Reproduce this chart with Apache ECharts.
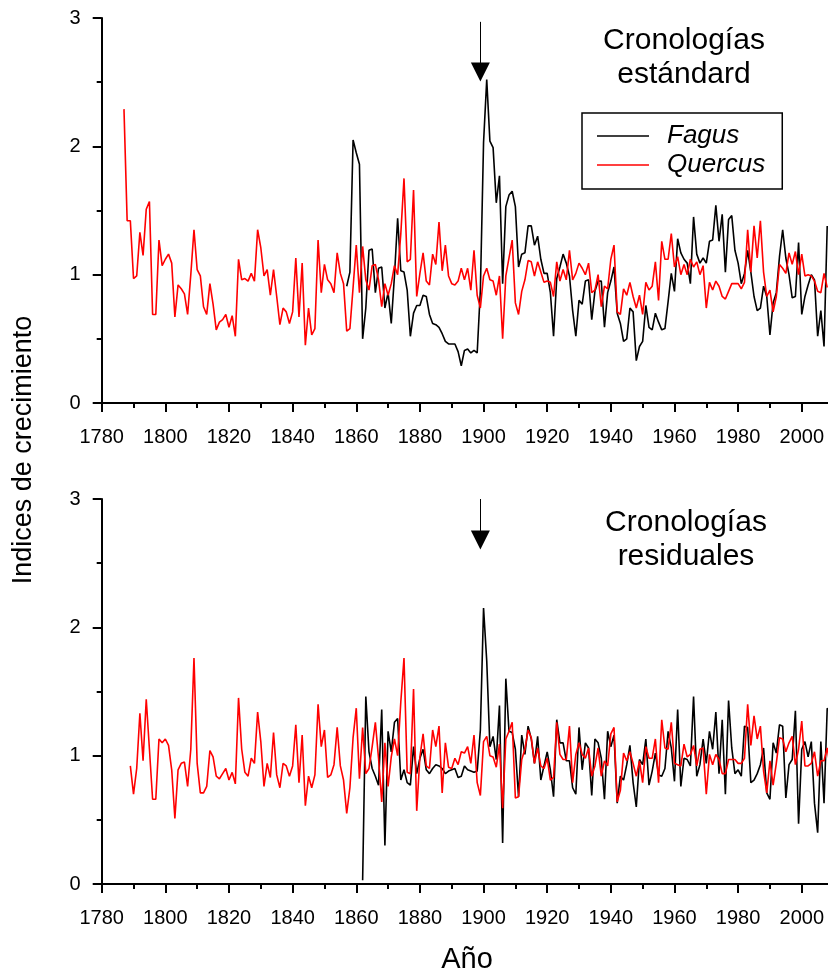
<!DOCTYPE html>
<html>
<head>
<meta charset="utf-8">
<title>Cronologías Fagus / Quercus</title>
<script src="https://cdn.jsdelivr.net/npm/echarts@6/dist/echarts.min.js"></script>
<style>
  html, body { margin: 0; padding: 0; background: #fff; }
  #chart { width: 828px; height: 975px; }
</style>
</head>
<body>
<div id="chart"></div>
<script>
// --- datos (índices de crecimiento por año) ---
const quercusStdStart = 1787;
const quercusStd = [
  2.29, 1.42, 1.42, 0.97, 0.99, 1.33, 1.15, 1.51, 1.57, 0.69, // 1787
  0.69, 1.27, 1.07, 1.12, 1.16, 1.09, 0.67, 0.92, 0.89, 0.85, // 1797
  0.69, 1.00, 1.35, 1.04, 0.99, 0.75, 0.69, 0.93, 0.77, 0.57, // 1807
  0.63, 0.65, 0.69, 0.59, 0.68, 0.52, 1.12, 0.96, 0.97, 0.95, // 1817
  1.01, 0.95, 1.35, 1.21, 0.99, 1.04, 0.84, 1.04, 0.83, 0.61, // 1827
  0.74, 0.71, 0.62, 0.71, 1.13, 0.67, 1.09, 0.45, 0.74, 0.53, // 1837
  0.58, 1.27, 0.86, 1.08, 0.96, 0.93, 0.86, 1.17, 1.01, 0.93, // 1847
  0.56, 0.58, 0.90, 1.23, 0.86, 1.22, 0.96, 0.88, 1.07, 1.08, // 1857
  0.96, 0.75, 0.93, 0.84, 0.93, 1.07, 1.00, 1.32, 1.75, 1.10, // 1867
  1.12, 1.66, 0.83, 1.01, 1.17, 0.95, 0.92, 1.16, 1.08, 1.41, // 1877
  1.03, 1.23, 0.99, 0.93, 0.92, 0.95, 1.05, 0.96, 1.05, 0.88, // 1887
  1.19, 0.84, 0.74, 0.99, 1.05, 0.96, 0.95, 0.84, 0.99, 0.50, // 1897
  0.99, 1.13, 1.27, 0.78, 0.69, 0.87, 0.96, 1.11, 1.10, 0.99, // 1907
  1.10, 1.02, 0.94, 0.95, 0.94, 0.83, 1.10, 0.95, 1.04, 0.96, // 1917
  1.19, 0.96, 1.01, 1.09, 1.05, 1.00, 1.09, 0.86, 0.88, 1.00, // 1927
  0.75, 0.91, 0.89, 1.12, 1.23, 0.71, 0.69, 0.89, 0.84, 0.94, // 1937
  0.83, 0.74, 0.84, 0.69, 0.94, 0.88, 0.91, 1.10, 0.80, 1.26, // 1947
  1.12, 1.12, 1.32, 1.06, 1.14, 1.00, 1.08, 1.00, 1.12, 1.06, // 1957
  1.10, 1.00, 1.07, 0.74, 0.94, 0.88, 0.95, 0.91, 0.83, 0.81, // 1967
  0.87, 0.93, 0.93, 0.93, 0.89, 0.94, 1.35, 1.02, 1.38, 1.13, // 1977
  1.42, 1.02, 0.83, 0.88, 0.71, 0.83, 1.08, 1.05, 1.01, 1.17, // 1987
  1.08, 1.18, 1.00, 1.16, 0.99, 1.00, 0.99, 0.95, 0.87, 0.86, // 1997
  1.01, 0.90                                                  // 2007
];

const fagusStdStart = 1857;
const fagusStd = [
  0.91, 1.02, 2.05, 1.95, 1.86, 0.50, 0.74, 1.19, 1.20, 0.86, // 1857
  1.05, 1.06, 0.74, 0.86, 0.62, 0.99, 1.44, 1.03, 1.02, 0.88, // 1867
  0.52, 0.70, 0.76, 0.76, 0.84, 0.83, 0.69, 0.62, 0.61, 0.59, // 1877
  0.54, 0.48, 0.46, 0.46, 0.46, 0.40, 0.29, 0.41, 0.42, 0.39, // 1887
  0.41, 0.39, 0.88, 2.03, 2.52, 2.04, 1.99, 1.56, 1.77, 0.93, // 1897
  1.53, 1.62, 1.65, 1.53, 1.06, 1.16, 1.17, 1.38, 1.38, 1.23, // 1907
  1.30, 1.12, 1.01, 1.01, 0.86, 0.52, 0.97, 1.06, 1.16, 1.09, // 1917
  0.99, 0.72, 0.52, 0.80, 0.77, 0.95, 0.96, 0.65, 0.87, 0.95, // 1927
  0.95, 0.59, 0.86, 0.95, 1.06, 0.70, 0.62, 0.48, 0.50, 0.74, // 1937
  0.71, 0.33, 0.44, 0.48, 0.76, 0.59, 0.57, 0.70, 0.63, 0.57, // 1947
  0.58, 0.79, 1.01, 0.87, 1.28, 1.17, 1.12, 1.09, 0.93, 1.45, // 1957
  1.16, 1.09, 1.13, 1.09, 1.26, 1.27, 1.54, 1.26, 1.47, 1.02, // 1967
  1.43, 1.46, 1.19, 1.09, 0.93, 1.01, 1.19, 1.02, 0.83, 0.72, // 1977
  0.74, 0.91, 0.83, 0.53, 0.78, 0.86, 1.14, 1.35, 1.13, 1.00, // 1987
  0.82, 0.83, 1.25, 0.69, 0.83, 0.92, 1.00, 0.96, 0.52, 0.72, // 1997
  0.44, 1.38                                                  // 2007
];

const quercusResStart = 1789;
const quercusRes = [
  0.92, 0.70, 0.90, 1.33, 0.96, 1.44, 1.05, 0.66, 0.66, 1.13, // 1789
  1.10, 1.13, 1.08, 0.89, 0.51, 0.89, 0.94, 0.95, 0.76, 1.05, // 1799
  1.76, 0.94, 0.71, 0.71, 0.76, 1.04, 0.99, 0.84, 0.82, 0.86, // 1809
  0.90, 0.81, 0.87, 0.78, 1.45, 1.05, 0.87, 0.84, 0.98, 0.94, // 1819
  1.34, 1.11, 0.76, 0.94, 0.83, 1.18, 0.85, 0.75, 0.94, 0.92, // 1829
  0.84, 0.92, 1.24, 0.79, 1.16, 0.61, 0.84, 0.75, 0.85, 1.40, // 1839
  1.07, 1.20, 0.83, 0.85, 0.93, 1.22, 0.92, 0.81, 0.55, 0.75, // 1849
  1.14, 1.37, 0.82, 1.22, 0.86, 0.90, 1.07, 1.26, 0.98, 0.64, // 1859
  1.10, 0.76, 0.99, 1.13, 1.00, 1.42, 1.76, 0.87, 0.86, 1.52, // 1869
  0.57, 0.99, 1.17, 0.92, 0.90, 1.20, 1.07, 1.23, 0.71, 1.10, // 1879
  0.91, 0.90, 0.98, 0.93, 1.03, 1.02, 1.07, 0.94, 1.16, 0.79, // 1889
  0.69, 1.11, 1.15, 1.00, 0.99, 0.91, 1.09, 0.59, 1.13, 1.19, // 1899
  1.26, 0.67, 0.68, 0.97, 1.05, 1.20, 1.14, 0.94, 1.06, 0.92, // 1909
  0.90, 0.98, 0.81, 0.83, 1.26, 1.01, 0.97, 0.97, 1.23, 0.79, // 1919
  1.01,                                                       // 1929
  1.10, 1.01, 0.98, 1.06, 0.84, 0.92, 1.06, 0.84, 0.96, 0.92, // 1930
  1.17, 1.22, 0.64, 0.73, 1.02, 0.96, 1.03, 0.94, 0.84, 0.96, // 1940
  0.79, 1.07, 0.98, 0.98, 1.13, 0.79, 1.28, 1.06, 1.05, 1.26, // 1950
  0.94, 0.93, 0.92, 1.09, 0.99, 1.01, 1.08, 0.92, 1.05, 1.06, // 1960
  0.70, 1.01, 0.93, 1.01, 0.97, 0.86, 0.86, 0.97, 0.97, 0.97, // 1970
  0.94, 0.94, 0.98, 1.40, 1.08, 1.31, 1.13, 1.23, 0.88, 0.71, // 1980
  0.96, 0.77, 0.94, 1.14, 1.13, 1.03, 1.10, 1.15, 0.93, 1.05, // 1990
  1.27, 0.92, 0.92, 0.94, 1.03, 0.84, 0.96, 0.96, 1.06, 0.90  // 2000
];

const fagusResStart = 1862;
const fagusRes = [
  0.03, 1.46, 1.03, 0.90, 0.84, 0.77, 1.36, 0.30, 1.19, 1.03, // 1862
  1.26, 1.29, 0.81, 0.89, 0.79, 0.77, 1.07, 0.86, 0.98, 1.05, // 1872
  0.89, 0.86, 0.90, 0.93, 0.92, 0.90, 0.86, 0.88, 0.89, 0.90, // 1882
  0.83, 0.84, 0.92, 0.89, 0.88, 0.87, 0.88, 1.20, 2.15, 1.74, // 1892
  1.07, 1.15, 0.97, 1.39, 0.32, 1.60, 1.19, 1.18, 1.05, 0.68, // 1902
  1.16, 1.01, 1.23, 1.13, 0.94, 1.15, 0.81, 0.92, 1.03, 0.89, // 1912
  0.68, 1.28, 1.10, 1.10, 0.96, 0.96, 0.75, 0.70,             // 1922
  1.22, 0.89, 1.10, 1.06, 0.69, 1.13, 1.10, 0.98, 0.66, 1.19, // 1930
  1.07, 1.16, 0.63, 0.84, 0.81, 0.93, 1.08, 0.79, 0.60, 0.97, // 1940
  0.93, 1.13, 0.77, 0.88, 1.02, 0.85, 0.84, 0.90, 1.19, 1.06, // 1950
  0.80, 1.36, 0.76, 0.98, 0.97, 0.92, 1.46, 0.84, 0.93, 1.13, // 1960
  0.94, 1.19, 1.05, 1.34, 0.86, 1.28, 0.70, 1.43, 1.06, 0.86, // 1970
  0.89, 0.84, 1.23, 1.22, 0.79, 0.81, 0.86, 0.93, 1.06, 0.71, // 1980
  0.66, 1.10, 1.02, 1.24, 1.23, 0.67, 0.93, 0.97, 1.35, 0.47, // 1990
  1.05, 1.11, 0.99, 1.11, 0.63, 0.40, 1.11, 0.63, 1.37, 1.34  // 2000
];

const xTicks = { min: 1780, max: 2020, interval: 20 };
const yTicks = { min: 0, max: 3, interval: 1 };
const arrowYear = 1899;

// --- helpers ---
const FONT = '"Liberation Sans", Arial, Helvetica, sans-serif';

function toPairs(start, vals) {
  return vals.map((v, i) => [start + i, v]);
}

function xAxisOf(gridIndex) {
  return {
    type: "value",
    gridIndex: gridIndex,
    min: xTicks.min,
    max: xTicks.max,
    interval: xTicks.interval,
    axisLine: { show: true, onZero: false, lineStyle: { color: "#000", width: 2 } },
    axisTick: { show: true, length: 9, lineStyle: { color: "#000", width: 2 } },
    minorTick: { show: true, splitNumber: 2, length: 5, lineStyle: { color: "#000", width: 2 } },
    splitLine: { show: false },
    minorSplitLine: { show: false },
    axisLabel: {
      color: "#000", fontSize: 20, fontFamily: FONT, margin: 24, showMaxLabel: false,
      formatter: (v) => String(v),
    },
  };
}

function yAxisOf(gridIndex) {
  return {
    type: "value",
    gridIndex: gridIndex,
    min: yTicks.min,
    max: yTicks.max,
    interval: yTicks.interval,
    axisLine: { show: true, lineStyle: { color: "#000", width: 2 } },
    axisTick: { show: true, length: 9, lineStyle: { color: "#000", width: 2 } },
    minorTick: { show: true, splitNumber: 2, length: 5, lineStyle: { color: "#000", width: 2 } },
    splitLine: { show: false },
    minorSplitLine: { show: false },
    axisLabel: { color: "#000", fontSize: 20, fontFamily: FONT, margin: 21 },
  };
}

function arrowMark(top, tip) {
  return {
    silent: true,
    symbol: ["none", "triangle"],
    symbolSize: 19,
    label: { show: false },
    lineStyle: { color: "#000", width: 1, type: "solid" },
    itemStyle: { color: "#000" },
    emphasis: { disabled: true },
    data: [[{ coord: [arrowYear, top] }, { coord: [arrowYear, tip] }]],
  };
}

function lineSeries(name, color, idx, data, mark) {
  const s = {
    name: name,
    type: "line",
    xAxisIndex: idx,
    yAxisIndex: idx,
    data: data,
    symbol: "none",
    clip: false,
    lineStyle: { color: color, width: 1.6 },
    itemStyle: { color: color },
    emphasis: { disabled: true },
    animation: false,
  };
  if (mark) s.markLine = mark;
  return s;
}

const titleStyle = {
  fontSize: 30,
  fontFamily: FONT,
  fill: "#000",
  align: "center",
  verticalAlign: "top",
  lineHeight: 34,
};

const chart = echarts.init(document.getElementById("chart"));

const option = {
  backgroundColor: "#fff",
  animation: false,
  grid: [
    { left: 101.7, top: 18, width: 763.7, height: 385, outerBoundsMode: "none", containLabel: false },
    { left: 101.7, top: 499, width: 763.7, height: 385, outerBoundsMode: "none", containLabel: false },
  ],
  xAxis: [xAxisOf(0), xAxisOf(1)],
  yAxis: [yAxisOf(0), yAxisOf(1)],
  legend: {
    data: ["Fagus", "Quercus"],
    orient: "vertical",
    left: 582,
    top: 113,
    padding: [10, 17, 11, 15],
    icon: "rect",
    itemWidth: 52,
    itemHeight: 1.6,
    itemGap: 3,
    borderColor: "#000",
    borderWidth: 1.5,
    selectedMode: false,
    textStyle: {
      fontSize: 26,
      fontStyle: "italic",
      fontFamily: FONT,
      color: "#000",
      lineHeight: 26,
      padding: [0, 0, 0, 13],
    },
  },
  graphic: [
    { type: "text", x: 684, y: 24, style: Object.assign({ text: "Cronologías\nestándard" }, titleStyle) },
    { type: "text", x: 686, y: 506, style: Object.assign({ text: "Cronologías\nresiduales" }, titleStyle) },
    {
      type: "text", x: 467, y: 960,
      style: { text: "Año", fontSize: 29, fontFamily: FONT, fill: "#000", align: "center", verticalAlign: "middle" },
    },
    {
      type: "text", x: 24, y: 450, rotation: Math.PI / 2,
      style: { text: "Indices de crecimiento", fontSize: 27, fontFamily: FONT, fill: "#000", align: "center", verticalAlign: "middle" },
    },
  ],
  series: [
    lineSeries("Fagus", "#000", 0, toPairs(fagusStdStart, fagusStd), arrowMark(2.97, 2.58)),
    lineSeries("Quercus", "#ff0000", 0, toPairs(quercusStdStart, quercusStd)),
    lineSeries("Fagus", "#000", 1, toPairs(fagusResStart, fagusRes), arrowMark(3.0, 2.68)),
    lineSeries("Quercus", "#ff0000", 1, toPairs(quercusResStart, quercusRes)),
  ],
};

chart.setOption(option, true);

window.addEventListener("resize", () => {
  chart.resize();
});
</script>
</body>
</html>
